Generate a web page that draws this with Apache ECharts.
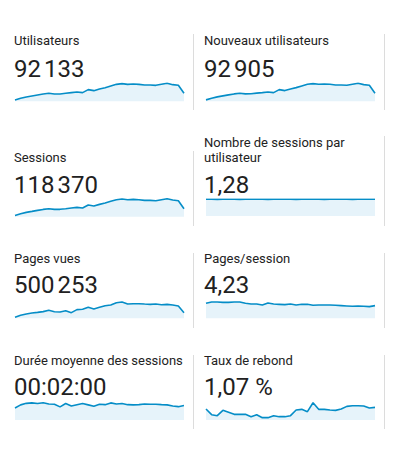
<!DOCTYPE html>
<html><head><meta charset="utf-8">
<script src="https://cdn.jsdelivr.net/npm/echarts@6/dist/echarts.min.js"></script>
<style>html,body{margin:0;padding:0;background:#fff}#c{width:394px;height:453px}</style>
</head><body><div id="c"></div>
<script>
// ---- data ----
const days = ['1','2','3','4','5','6','7','8','9','10','11','12','13','14','15','16','17','18','19','20','21','22','23','24','25','26','27','28','29','30','31'];
const metricNames = ['Utilisateurs','Nouveaux utilisateurs','Sessions','Nombre de sessions par\nutilisateur','Pages vues','Pages/session','Durée moyenne des sessions','Taux de rebond'];
const metricTotals = ['92\u202F133','92\u202F905','118\u202F370','1,28','500\u202F253','4,23','00:02:00','1,07\u00A0%'];
const utilisateurs = [2120,2270,2390,2480,2570,2660,2720,2660,2660,2720,2780,2840,2780,3050,2960,3110,3230,3380,3530,3590,3530,3560,3530,3470,3470,3440,3530,3620,3500,3440,2720];
const nouveauxUtilisateurs = [2130,2280,2400,2490,2580,2670,2730,2670,2680,2740,2790,2850,2790,3060,2970,3120,3240,3390,3540,3600,3540,3570,3540,3480,3480,3450,3540,3630,3510,3450,2730];
const sessions = [2710,2900,3060,3170,3290,3400,3480,3400,3410,3480,3560,3630,3560,3900,3790,3980,4130,4330,4520,4600,4520,4560,4520,4440,4440,4400,4520,4630,4480,4400,3480];
const sessionsParUtilisateur = [1.28,1.28,1.27,1.28,1.28,1.28,1.27,1.28,1.28,1.28,1.28,1.27,1.28,1.28,1.28,1.28,1.27,1.28,1.28,1.28,1.28,1.27,1.28,1.28,1.28,1.28,1.27,1.28,1.28,1.28,1.28];
const pagesVues = [10740,12260,13250,14010,14490,15020,16000,14980,14760,15750,14240,16510,16760,18250,17010,18240,19490,20010,21760,22240,20760,20990,21010,20740,20500,20760,20240,20510,19990,19250,14240];
const pagesParSession = [4.31,4.39,4.39,4.37,4.37,4.39,4.39,4.31,4.27,4.27,4.21,4.33,4.27,4.25,4.23,4.27,4.21,4.25,4.25,4.19,4.21,4.21,4.21,4.19,4.17,4.15,4.13,4.15,4.13,4.11,4.17];
const dureeMoyenneSec = [105,119,126,128,125,129,123,122,110,125,114,120,125,119,113,122,120,128,123,125,120,119,120,123,122,122,120,119,114,111,116];
const tauxDeRebond = [1.18,1.01,0.98,1.14,1.08,1.02,1.02,1.02,0.95,1.01,0.92,0.92,0.98,0.95,0.95,0.98,1.15,1.17,1.10,1.37,1.17,1.17,1.15,1.14,1.18,1.26,1.28,1.28,1.27,1.21,1.23];

const seriesData = [utilisateurs, nouveauxUtilisateurs, sessions, sessionsParUtilisateur, pagesVues, pagesParSession, dureeMoyenneSec, tauxDeRebond];

// ---- layout ----
const colX = [14, 204];
const gridX = [15, 206];
const gridW = 169;
const layout = [
  {col:0, titleY:40.7, valueY:68.5, top:83,    h:18.3, min:2000, max:3650, d:[34,110]},
  {col:1, titleY:40.7, valueY:68.5, top:83,    h:18.3, min:2000, max:3660, d:[34,110]},
  {col:0, titleY:157.3, valueY:185.1, top:198.4, h:18.3, min:2560, max:4670, d:[151,226]},
  {col:1, titleY:149.8, valueY:185.1, top:199,   h:17,   min:0,    max:1.30, d:[136,226]},
  {col:0, titleY:258.9, valueY:285.1, top:300.7, h:17.6, min:10000, max:23250, d:[253,328]},
  {col:1, titleY:258.9, valueY:285.1, top:301,   h:17.3, min:3.41, max:4.45, d:[253,328]},
  {col:0, titleY:360.6, valueY:386.8, top:402,   h:18,   min:51,   max:132,  d:[355,429]},
  {col:1, titleY:360.6, valueY:386.8, top:402.7, h:17.3, min:0.85, max:1.37, d:[355,429]}
];
const divX = [193.5, 384.5];

const grids = [], xAxes = [], yAxes = [], series = [], graphics = [];
layout.forEach((L, i) => {
  grids.push({left: gridX[L.col], top: L.top, width: gridW, height: L.h, containLabel: false});
  xAxes.push({type:'category', gridIndex:i, data: days, boundaryGap:false, show:false});
  yAxes.push({type:'value', gridIndex:i, min:L.min, max:L.max, show:false});
  series.push({
    type:'line', xAxisIndex:i, yAxisIndex:i, data: seriesData[i],
    symbol:'none', smooth:false, silent:true,
    lineStyle:{color:'#058dc7', width:1.6},
    areaStyle:{color:'#e6f3fa', opacity:1}
  });
  graphics.push({type:'text', x: colX[L.col], y: L.titleY,
    style:{text: metricNames[i], font:'13px Roboto', fill:'#222222', verticalAlign:'middle', lineHeight:15}});
  graphics.push({type:'text', x: colX[L.col], y: L.valueY,
    style:{text: metricTotals[i], font:'24px Roboto', fill:'#212121', verticalAlign:'middle'}});
  graphics.push({type:'line', shape:{x1: divX[L.col], y1: L.d[0], x2: divX[L.col], y2: L.d[1]},
    style:{stroke:'#dcdcdc', lineWidth:1}});
});

const chart = echarts.init(document.getElementById('c'), null, {renderer:'svg'});
chart.setOption({
  animation:false,
  backgroundColor:'#ffffff',
  grid: grids, xAxis: xAxes, yAxis: yAxes, series: series,
  graphic: {elements: graphics}
});
</script></body></html>
